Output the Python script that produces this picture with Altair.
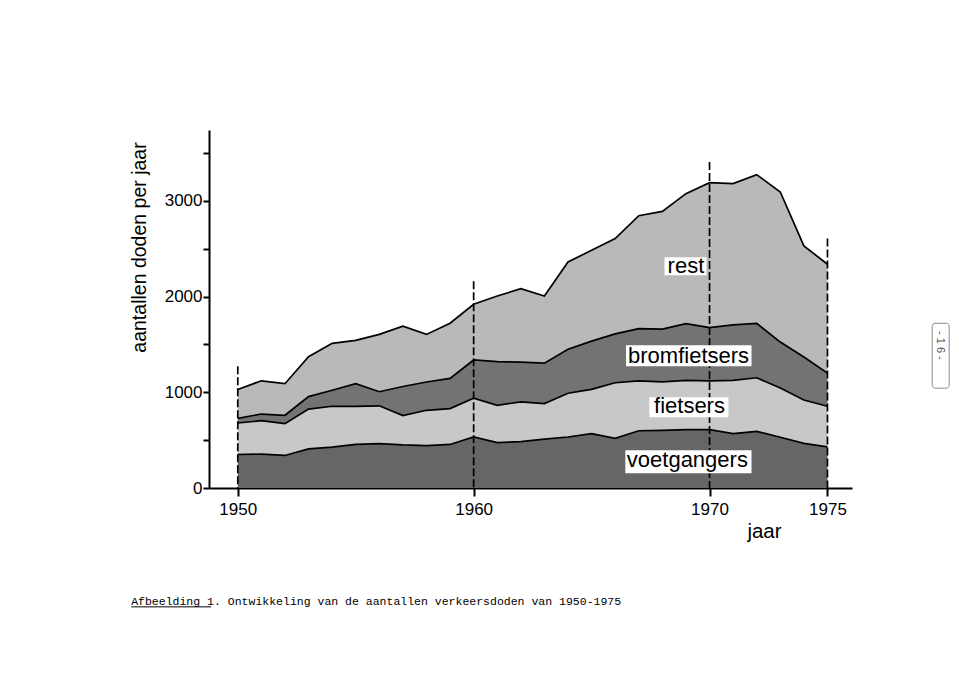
import altair as alt
import pandas as pd

# ---- data (verkeersdoden per jaar) ----
years = list(range(1950, 1976))
voetgangers = [350, 354, 340, 408, 428, 455, 463, 450, 443, 455,
               533, 475, 485, 510, 533, 568, 518, 598, 603, 610,
               610, 568, 592, 530, 467, 429]
fietsers = [329, 349, 332, 416, 426, 399, 396, 307, 369, 375,
            405, 389, 415, 372, 457, 462, 582, 522, 507, 515,
            510, 557, 560, 514, 453, 425]
bromfietsers = [49, 70, 88, 131, 167, 237, 147, 304, 296, 316,
                400, 456, 415, 423, 460, 505, 510, 546, 550, 593,
                555, 580, 568, 481, 449, 346]
rest = [302, 347, 330, 417, 491, 452, 599, 629, 497, 576,
        582, 686, 768, 701, 912, 949, 996, 1179, 1230, 1358,
        1516, 1476, 1555, 1568, 1161, 1138]

categories = ["voetgangers", "fietsers", "bromfietsers", "rest"]
fills = ["#666666", "#c8c8c8", "#737373", "#b9b9b9"]

guide_years = [1950, 1960, 1970, 1975]
guide_tops = [1271, 2160, 3407, 2606]

y_ticks = [0, 500, 1000, 1500, 2000, 2500, 3000, 3500]

# label annotations (centre year, baseline value) and their white boxes
label_names = ["rest", "bromfietsers", "fietsers", "voetgangers"]
label_x = [1969.00, 1969.11, 1969.15, 1969.06]
label_y = [2244, 1307, 784, 220]
box_x1 = [1968.09, 1966.46, 1967.45, 1966.43]
box_x2 = [1969.87, 1971.78, 1970.80, 1971.78]
box_y1 = [2411, 1492, 948, 394]
box_y2 = [2223, 1273, 739, 154]

caption = "Afbeelding 1. Ontwikkeling van de aantallen verkeersdoden van 1950-1975"
page_number = "- 1 6 -"

# ---- build tables ----
series = [voetgangers, fietsers, bromfietsers, rest]
rows = []
for i, yr in enumerate(years):
    low = 0
    for k, name in enumerate(categories):
        high = low + series[k][i]
        rows.append({"jaar": yr, "categorie": name, "laag": low, "hoog": high, "volgorde": k})
        low = high
df = pd.DataFrame(rows)

guides = pd.DataFrame({"jaar": guide_years, "top": guide_tops, "nul": [0] * len(guide_years)})
labels = pd.DataFrame({"naam": label_names, "x": label_x, "y": label_y,
                       "x1": box_x1, "x2": box_x2, "y1": box_y1, "y2": box_y2})
cap_df = pd.DataFrame({"t": [caption], "x": [1945.48], "y": [-1226], "x2": [1948.87], "yu": [-1242]})
page_df = pd.DataFrame({"t": [page_number], "x": [1979.78], "y": [1490],
                        "x1": [1979.44], "x2": [1980.16], "y1": [1721], "y2": [1043]})

XS = alt.Scale(domain=[1948.78, 1976.04], nice=False, zero=False)
YS = alt.Scale(domain=[0, 3741], nice=False, zero=False)

FONT = "Liberation Sans"

x_axis = alt.Axis(
    values=guide_years, format="d", title="jaar",
    labelFontSize=17, labelPadding=5, labelColor="black", labelFont=FONT,
    tickSize=8, tickWidth=2, tickColor="black",
    domainWidth=2, domainColor="black", grid=False,
    titleX=555, titleY=49, titleAlign="center", titleBaseline="alphabetic",
    titleFontSize=20.5, titleFontWeight="normal", titleColor="black", titleFont=FONT,
)
y_axis = alt.Axis(
    values=y_ticks, format="d",
    labelExpr="datum.value % 1000 === 0 ? datum.label : ''",
    title="aantallen doden per jaar",
    labelFontSize=17, labelPadding=1, labelColor="black", labelFont=FONT,
    tickSize=6, tickWidth=2, tickColor="black",
    domainWidth=2, domainColor="black", grid=False,
    titleX=-64, titleY=117, titleAngle=270, titleAlign="center", titleBaseline="alphabetic",
    titleFontSize=19.5, titleFontWeight="normal", titleColor="black", titleFont=FONT,
)

areas = alt.Chart(df).mark_area(opacity=1).encode(
    x=alt.X("jaar:Q", scale=XS, axis=x_axis),
    y=alt.Y("hoog:Q", scale=YS, axis=y_axis),
    y2="laag:Q",
    color=alt.Color("categorie:N", scale=alt.Scale(domain=categories, range=fills), legend=None),
    order=alt.Order("volgorde:Q"),
)

lines = alt.Chart(df).mark_line(color="black", strokeWidth=1.7).encode(
    x=alt.X("jaar:Q", scale=XS),
    y=alt.Y("hoog:Q", scale=YS),
    detail="categorie:N",
)

rules = alt.Chart(guides).mark_rule(color="black", strokeWidth=1.7, strokeDash=[8, 3]).encode(
    x=alt.X("jaar:Q", scale=XS),
    y=alt.Y("top:Q", scale=YS),
    y2="nul:Q",
)

boxes = alt.Chart(labels).mark_rect(color="white", opacity=1).encode(
    x=alt.X("x1:Q", scale=XS),
    x2="x2:Q",
    y=alt.Y("y1:Q", scale=YS),
    y2="y2:Q",
)

texts = alt.Chart(labels).mark_text(
    font=FONT, fontSize=22, color="black", align="center", baseline="alphabetic"
).encode(
    x=alt.X("x:Q", scale=XS),
    y=alt.Y("y:Q", scale=YS),
    text="naam:N",
)

cap_text = alt.Chart(cap_df).mark_text(
    font="Liberation Mono", fontSize=11.5, color="black", align="left", baseline="alphabetic"
).encode(
    x=alt.X("x:Q", scale=XS),
    y=alt.Y("y:Q", scale=YS),
    text="t:N",
)

cap_line = alt.Chart(cap_df).mark_rule(color="black", strokeWidth=1).encode(
    x=alt.X("x:Q", scale=XS),
    x2="x2:Q",
    y=alt.Y("yu:Q", scale=YS),
)

page_box = alt.Chart(page_df).mark_rect(
    fill="white", stroke="#8a8a8a", strokeWidth=1, cornerRadius=3
).encode(
    x=alt.X("x1:Q", scale=XS),
    x2="x2:Q",
    y=alt.Y("y1:Q", scale=YS),
    y2="y2:Q",
)

page_no = alt.Chart(page_df).mark_text(
    font=FONT, fontSize=11, color="#555555", angle=90, align="center", baseline="middle"
).encode(
    x=alt.X("x:Q", scale=XS),
    y=alt.Y("y:Q", scale=YS),
    text="t:N",
)

chart = alt.layer(areas, lines, rules, boxes, texts, cap_text, cap_line, page_box, page_no).properties(
    width=643,
    height=358,
    autosize=alt.AutoSizeParams(type="none"),
    padding={"left": 201, "top": 122, "right": 99, "bottom": 170},
    background="white",
).configure_view(stroke=None)

chart.save("out.html", embed_options={"renderer": "svg", "actions": False})
